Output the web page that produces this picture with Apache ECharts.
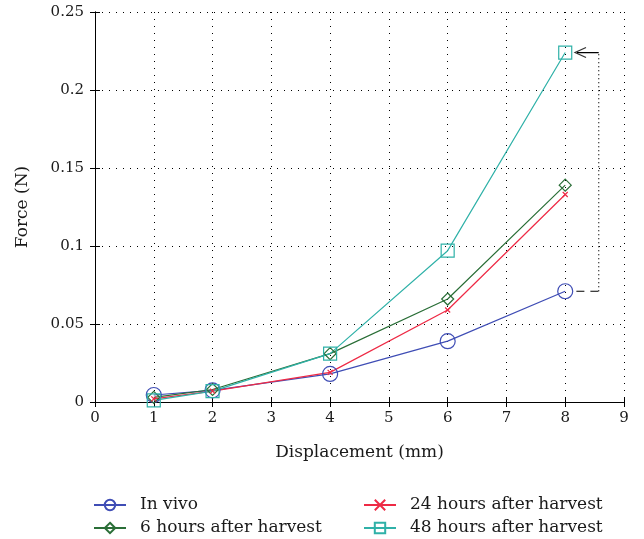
<!DOCTYPE html>
<html><head><meta charset="utf-8">
<script src="https://cdn.jsdelivr.net/npm/echarts@6/dist/echarts.min.js"></script>
<style>html,body{margin:0;padding:0;background:#fff}#c{width:644px;height:539px}</style>
</head><body><div id="c"></div>
<script>
const displacement = [1, 2, 4, 6, 8];
const inVivo = [0.0045, 0.0075, 0.018, 0.039, 0.071];
const h6 = [0.003, 0.008, 0.031, 0.066, 0.139];
const h24 = [0.002, 0.007, 0.019, 0.059, 0.133];
const h48 = [0.001, 0.007, 0.031, 0.097, 0.224];
const xTicks = [0,1,2,3,4,5,6,7,8,9];
const yTicks = ['0','0.05','0.1','0.15','0.2','0.25'];
const names = ['In vivo','6 hours after harvest','24 hours after harvest','48 hours after harvest'];

const FONT = 'DejaVu Serif';
const TXT = '#1a1a1a';
const pairs = arr => displacement.map((x,i)=>[x,arr[i]]);
const chart = echarts.init(document.getElementById('c'));
const dotted = {type:[1,6], color:'#000', width:1};
function mk(name, data, color, symbol, size){
  return {name, type:'line', data:pairs(data), symbol, symbolSize:size,
    lineStyle:{color, width:1.2}, itemStyle:{color:'rgba(0,0,0,0)', borderColor:color, borderWidth:1.2},
    emphasis:{disabled:true}, z:3, animation:false};
}
const legendText = {fontFamily:FONT, fontSize:17, color:TXT, lineHeight:20, padding:[0,0,0,9]};
const last = displacement.length-1;
const ax = displacement[last];
chart.setOption({
  animation:false,
  grid:{left:95, right:20, top:12, bottom:137},
  legend:[
    {left:88, top:490, orient:'vertical', itemGap:3, itemWidth:32, itemHeight:13, data:[names[0],names[1]],
     height:48, textStyle:legendText},
    {left:358, top:490, orient:'vertical', itemGap:3, itemWidth:32, itemHeight:13, data:[names[2],names[3]],
     height:48, textStyle:legendText}
  ],
  xAxis:[{type:'value', min:0, max:9, interval:1, name:'Displacement (mm)', nameLocation:'middle', nameGap:42,
    nameTextStyle:{fontFamily:FONT, fontSize:17, color:TXT},
    axisLine:{lineStyle:{color:'#000', width:1}}, axisTick:{inside:true, length:5, lineStyle:{color:'#000'}},
    axisLabel:{fontFamily:FONT, fontSize:15, color:TXT, margin:9, formatter:v=>String(xTicks[v])},
    splitLine:{show:true, lineStyle:dotted}},
   {type:'value', position:'top', min:0, max:9, interval:1, axisLine:{show:true,lineStyle:{color:'#000'}},
    axisTick:{inside:true, length:5, lineStyle:{color:'#000'}}, axisLabel:{show:false}, splitLine:{show:false}}],
  yAxis:[{type:'value', min:0, max:0.25, interval:0.05, name:'Force (N)', nameLocation:'middle', nameGap:64,
    nameTextStyle:{fontFamily:FONT, fontSize:17, color:TXT},
    axisLine:{show:true, lineStyle:{color:'#000'}}, axisTick:{show:true, inside:true, length:5, lineStyle:{color:'#000'}},
    axisLabel:{fontFamily:FONT, fontSize:15, color:TXT, margin:11, formatter:(v,i)=>yTicks[i]},
    splitLine:{show:true, lineStyle:dotted}},
   {type:'value', position:'right', min:0, max:0.25, interval:0.05, axisLine:{show:true, lineStyle:{color:'#000'}},
    axisTick:{show:true, inside:true, length:5, lineStyle:{color:'#000'}}, axisLabel:{show:false}, splitLine:{show:false}}],
  series:[
    mk(names[0], inVivo, '#3f4db5', 'circle', 15),
    mk(names[1], h6, '#2a6e37', 'diamond', 12),
    mk(names[2], h24, '#ee2a45', 'path://M0,0L10,10M10,0L0,10', 5),
    mk(names[3], h48, '#2fb1a8', 'rect', 13),
    {type:'line', silent:true, symbol:'none', animation:false,
     data:[[ax+0.19, inVivo[last]],[ax+0.57, inVivo[last]]],
     lineStyle:{color:'#000', width:1.2, type:[8,6]}},
    {type:'line', silent:true, symbol:'none', animation:false,
     data:[[ax+0.57, inVivo[last]],[ax+0.57, h48[last]]],
     lineStyle:{color:'#000', width:1.2, type:[1,3]}},
    {type:'line', silent:true, animation:false, symbol:'none',
     data:[[ax+0.57, h48[last]],[ax+0.2, h48[last]]],
     lineStyle:{color:'#000', width:1.2}},
    {type:'scatter', silent:true, animation:false, symbol:'path://M10,0L0,5L10,10', symbolSize:[11,10],
     data:[[ax+0.26, h48[last]]], itemStyle:{color:'rgba(0,0,0,0)', borderColor:'#000', borderWidth:1.2}}
  ]
});
</script></body></html>
